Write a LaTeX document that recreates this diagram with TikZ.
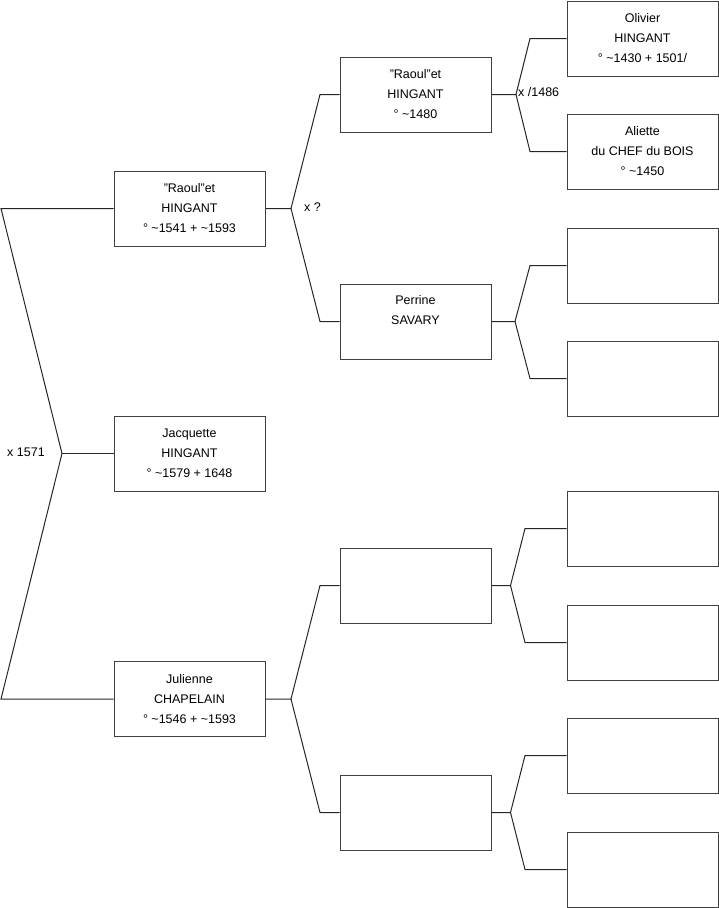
\documentclass[tikz,border=0pt]{standalone}
\usepackage{fontspec}
\setmainfont[Ligatures=NoCommon]{Liberation Sans}
\newcommand{\dq}{{\char34}}
\begin{document}
\begin{tikzpicture}[x=1pt,y=-1pt,
  person/.style={draw=black!75, line width=1pt, fill=white, minimum width=151pt, minimum height=75pt, inner sep=0pt, align=center, font=\fontsize{12.5}{20}\selectfont},
  link/.style={line width=1pt, draw=black!85},
  lbl/.style={font=\fontsize{12.5}{15}\selectfont, inner sep=0pt}]
\useasboundingbox (0,0) rectangle (719,908);
% generation 1
\node[person] (A) at (189.5,208.5) {\dq Raoul\dq et\\HINGANT\\° \textasciitilde1541 + \textasciitilde1593};
\node[person] (B) at (189.5,453.5) {Jacquette\\HINGANT\\° \textasciitilde1579 + 1648};
\node[person] (C) at (189.5,699) {Julienne\\CHAPELAIN\\° \textasciitilde1546 + \textasciitilde1593};
% generation 2
\node[person] (D) at (415.5,94.5) {\dq Raoul\dq et\\HINGANT\\° \textasciitilde1480};
\node[person] (E) at (415.5,321.5) {Perrine\\SAVARY\\\rule[-4pt]{0pt}{4pt}};
\node[person] (F) at (415.5,585.5) {};
\node[person] (G) at (415.5,812.5) {};
% generation 3
\node[person] (H) at (642.5,38.5) {Olivier\\HINGANT\\° \textasciitilde1430 + 1501/};
\node[person] (I) at (642.5,151.5) {Aliette\\du CHEF du BOIS\\° \textasciitilde1450};
\node[person] (J) at (642.5,265.5) {};
\node[person] (K) at (642.5,378.5) {};
\node[person] (L) at (642.5,528.5) {};
\node[person] (M) at (642.5,642.5) {};
\node[person] (N) at (642.5,755.5) {};
\node[person] (O) at (642.5,869.5) {};
% fork coordinates
\coordinate (fA) at (1,208.5);
\coordinate (fC) at (1,699);
\coordinate (f0) at (62,453.5);
\coordinate (a0) at (291,208.5);
\coordinate (a1) at (320,94.5);
\coordinate (a2) at (320,321.5);
\coordinate (c0) at (291,699);
\coordinate (c1) at (320,585.5);
\coordinate (c2) at (320,812.5);
\coordinate (d0) at (516,94.5);
\coordinate (d1) at (530,38.5);
\coordinate (d2) at (530,151.5);
\coordinate (e0) at (515,321.5);
\coordinate (e1) at (530,265.5);
\coordinate (e2) at (530,378.5);
\coordinate (g0) at (510.5,585.5);
\coordinate (g1) at (525,528.5);
\coordinate (g2) at (525,642.5);
\coordinate (h0) at (510.5,812.5);
\coordinate (h1) at (525,755.5);
\coordinate (h2) at (525,869.5);
% connectors
\draw[link] (A.west) -- (fA) -- (f0) -- (fC) -- (C.west);
\draw[link] (f0) -- (B.west);
\draw[link] (A.east) -- (a0) -- (a1) -- (D.west);
\draw[link] (a0) -- (a2) -- (E.west);
\draw[link] (C.east) -- (c0) -- (c1) -- (F.west);
\draw[link] (c0) -- (c2) -- (G.west);
\draw[link] (D.east) -- (d0) -- (d1) -- (H.west);
\draw[link] (d0) -- (d2) -- (I.west);
\draw[link] (E.east) -- (e0) -- (e1) -- (J.west);
\draw[link] (e0) -- (e2) -- (K.west);
\draw[link] (F.east) -- (g0) -- (g1) -- (L.west);
\draw[link] (g0) -- (g2) -- (M.west);
\draw[link] (G.east) -- (h0) -- (h1) -- (N.west);
\draw[link] (h0) -- (h2) -- (O.west);
% marriage labels
\node[lbl, anchor=west] (m1) at (7,452) {x 1571};
\node[lbl, anchor=west] (m2) at (304,207) {x ?};
\node[lbl, anchor=west] (m3) at (518,92) {x /1486};
\end{tikzpicture}
\end{document}
